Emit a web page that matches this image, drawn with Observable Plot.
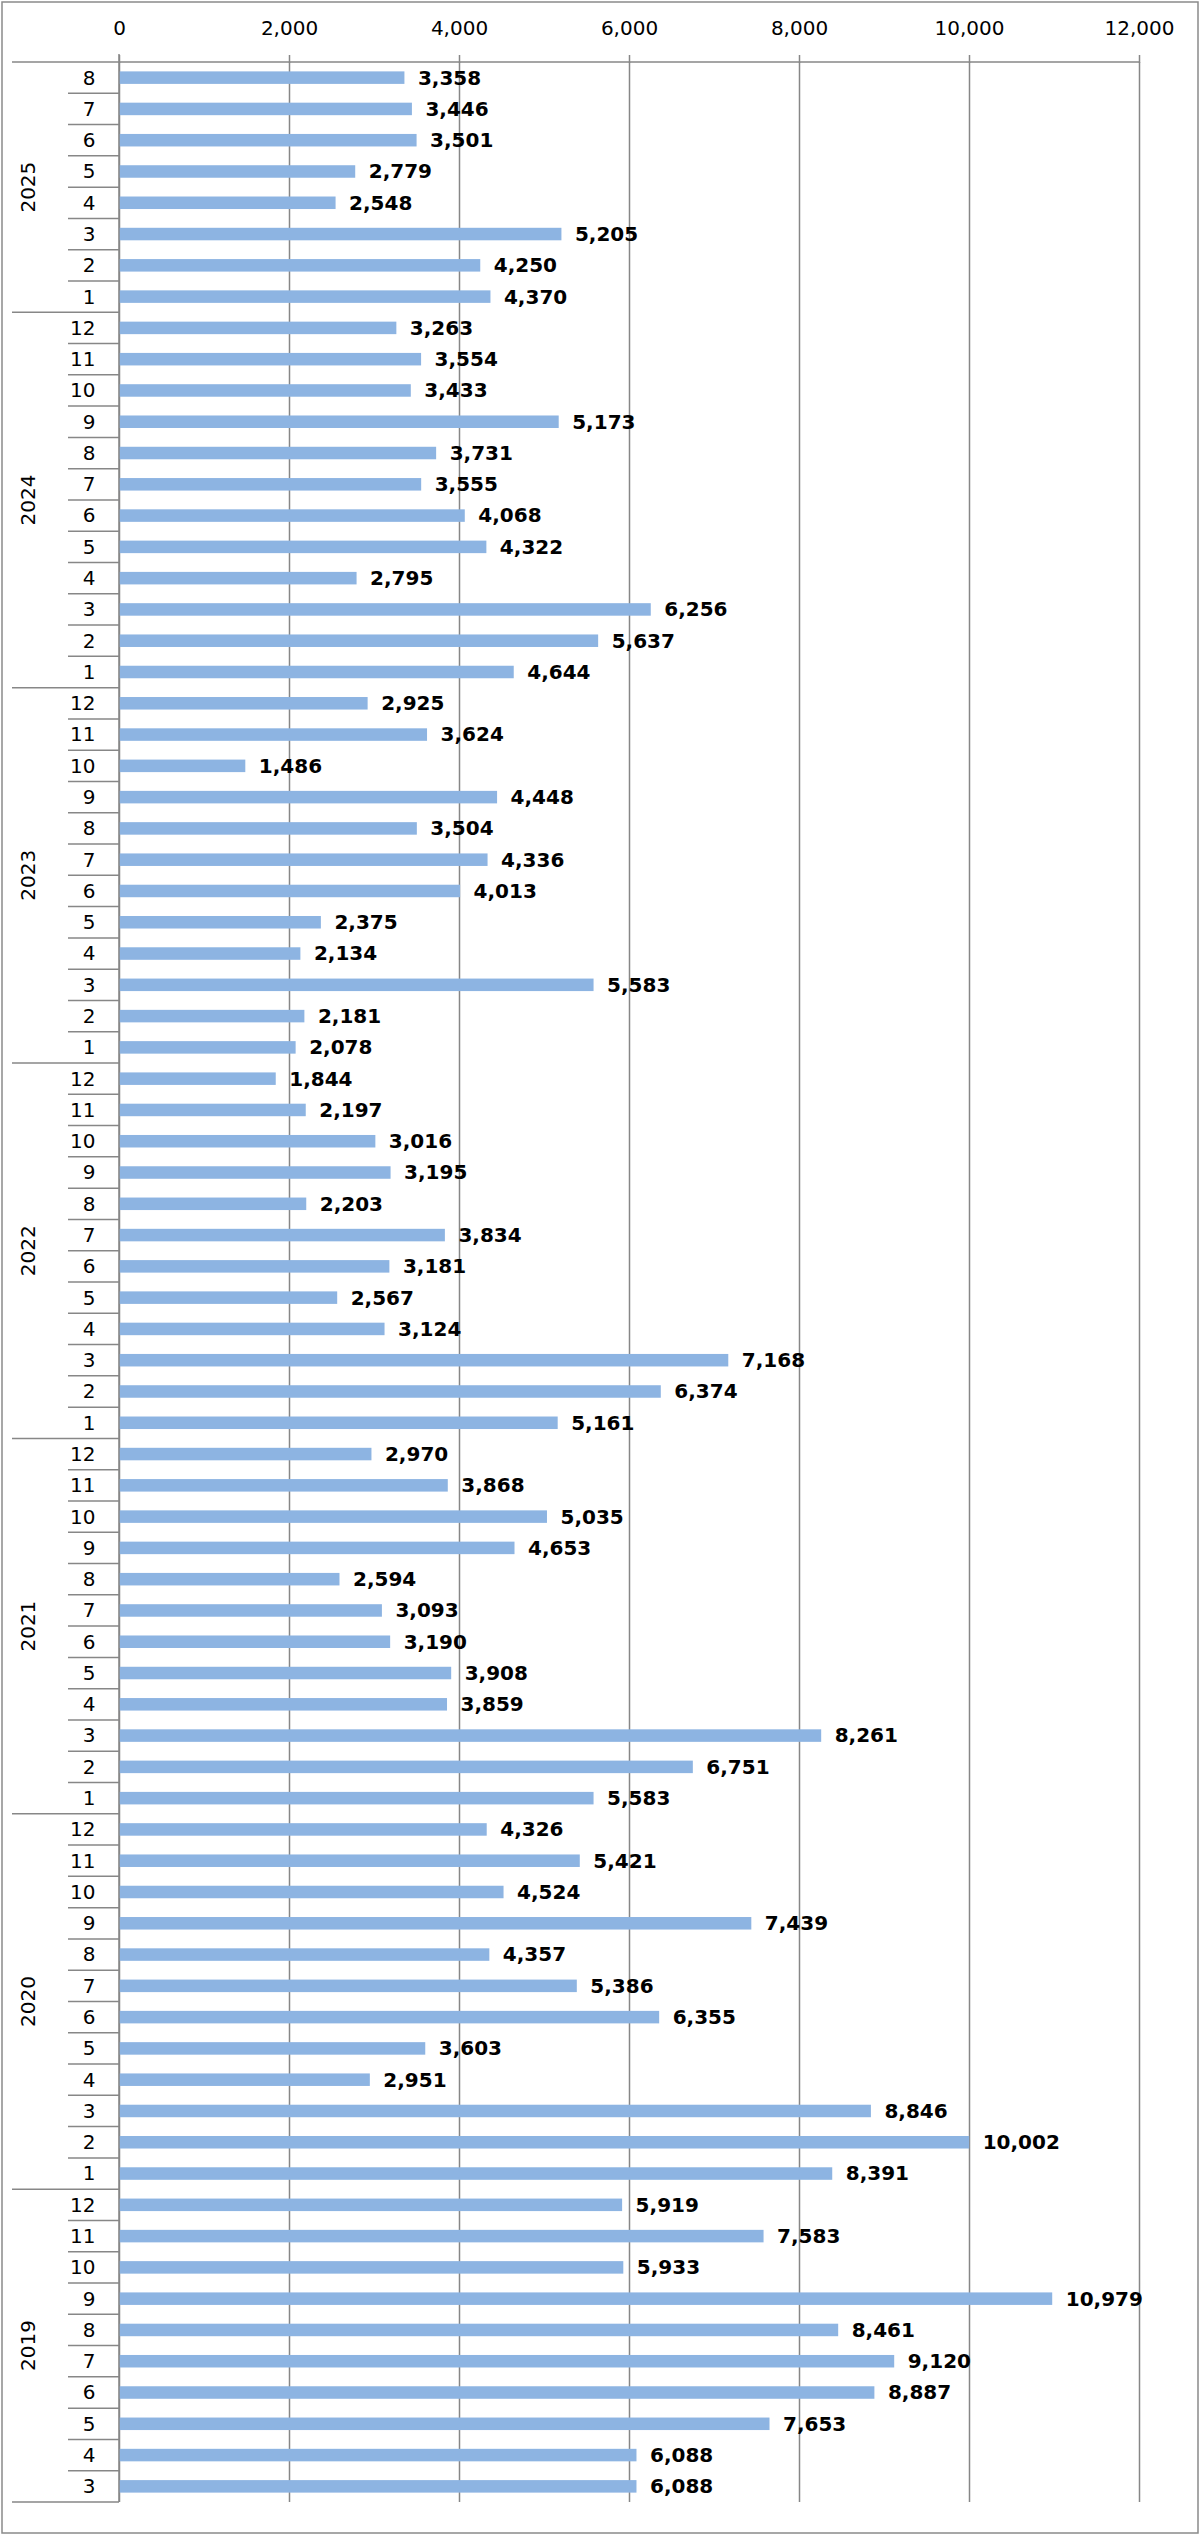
<!DOCTYPE html>
<html>
<head>
<meta charset="utf-8">
<script src="https://cdn.jsdelivr.net/npm/d3@7"></script>
<script src="https://cdn.jsdelivr.net/npm/@observablehq/plot@0.6"></script>
<style>
  html, body { margin: 0; padding: 0; background: #fff; }
  #chart svg { display: block; }
</style>
</head>
<body>
<div id="chart"></div>
<script>
// ---- Data ----
const years = [2025, 2024, 2023, 2022, 2021, 2020, 2019];
const months2025 = [8, 7, 6, 5, 4, 3, 2, 1];
const monthsFull = [12, 11, 10, 9, 8, 7, 6, 5, 4, 3, 2, 1];
const months2019 = [12, 11, 10, 9, 8, 7, 6, 5, 4, 3];

const values2025 = [3358, 3446, 3501, 2779, 2548, 5205, 4250, 4370];
const values2024 = [3263, 3554, 3433, 5173, 3731, 3555, 4068, 4322, 2795, 6256, 5637, 4644];
const values2023 = [2925, 3624, 1486, 4448, 3504, 4336, 4013, 2375, 2134, 5583, 2181, 2078];
const values2022 = [1844, 2197, 3016, 3195, 2203, 3834, 3181, 2567, 3124, 7168, 6374, 5161];
const values2021 = [2970, 3868, 5035, 4653, 2594, 3093, 3190, 3908, 3859, 8261, 6751, 5583];
const values2020 = [4326, 5421, 4524, 7439, 4357, 5386, 6355, 3603, 2951, 8846, 10002, 8391];
const values2019 = [5919, 7583, 5933, 10979, 8461, 9120, 8887, 7653, 6088, 6088];

const xTicks = [0, 2000, 4000, 6000, 8000, 10000, 12000];

// ---- Build table ----
const groups = [
  {year: 2025, months: months2025, values: values2025},
  {year: 2024, months: monthsFull, values: values2024},
  {year: 2023, months: monthsFull, values: values2023},
  {year: 2022, months: monthsFull, values: values2022},
  {year: 2021, months: monthsFull, values: values2021},
  {year: 2020, months: monthsFull, values: values2020},
  {year: 2019, months: months2019, values: values2019}
];
const rows = groups.flatMap(g => g.months.map((m, i) => ({
  year: g.year, month: m, key: `${g.year}-${m}`, value: g.values[i]
})));
const keys = rows.map(d => d.key);
const monthOf = k => k.split("-")[1];
const fmt = d3.format(",");

const W = 1200, H = 2535;
const mL = 119, mR = 61, mT = 62, mB = 33;
const FONT = "'DejaVu Sans', Verdana, sans-serif";
const GRID = "#878787";

const plot = Plot.plot({
  width: W,
  height: H,
  marginLeft: mL,
  marginRight: mR,
  marginTop: mT,
  marginBottom: mB,
  style: {fontFamily: FONT, fontSize: "20px", color: "#000", background: "#fff", overflow: "visible"},
  x: {domain: [0, 12000], axis: null},
  y: {domain: keys, paddingInner: 0.6, paddingOuter: 0.3, round: false, axis: null},
  marks: [
    Plot.gridX(xTicks, {stroke: GRID, strokeOpacity: 1, strokeWidth: 1.5}),
    Plot.axisX(xTicks, {
      anchor: "top", tickSize: 8, tickPadding: 20,
      tickFormat: d3.format(","), stroke: GRID, strokeWidth: 1.5,
      fill: "#000", fontSize: 20, label: null
    }),
    Plot.axisY({
      tickSize: 0, tickPadding: 24, tickFormat: k => monthOf(k),
      fill: "#000", fontSize: 20, label: null
    }),
    Plot.barX(rows, {x: "value", y: "key", fill: "#8DB4E2"}),
    Plot.text(rows, {
      x: "value", y: "key", text: d => fmt(d.value),
      textAnchor: "start", dx: 13, fontWeight: "bold", fontSize: 20, fill: "#000"
    })
  ]
});

document.getElementById("chart").appendChild(plot);

// ---- Category grouping decorations, positioned from Plot's y scale ----
const svg = d3.select(plot);
const ys = plot.scale("y");
const y0 = Math.min(ys.range[0], ys.range[1]);
const y1 = Math.max(ys.range[0], ys.range[1]);
const step = (y1 - y0) / keys.length;
const xRight = W - mR;

const deco = svg.append("g").attr("stroke", GRID).attr("stroke-width", 1.5).attr("fill", "none");
const txt = svg.append("g").attr("font-family", FONT).attr("font-size", 20).attr("fill", "#000");

let idx = 0;
groups.forEach((g, gi) => {
  const yTop = y0 + idx * step;
  deco.append("line").attr("x1", 12).attr("x2", gi === 0 ? xRight : mL).attr("y1", yTop).attr("y2", yTop);
  for (let i = 1; i < g.months.length; i++) {
    const yy = y0 + (idx + i) * step;
    deco.append("line").attr("x1", 68).attr("x2", mL).attr("y1", yy).attr("y2", yy);
  }
  const yMid = y0 + (idx + g.months.length / 2) * step;
  txt.append("text")
    .attr("transform", `translate(28,${yMid}) rotate(-90)`)
    .attr("text-anchor", "middle")
    .attr("dy", "0.35em")
    .text(String(g.year));
  idx += g.months.length;
});
deco.append("line").attr("x1", 12).attr("x2", mL).attr("y1", y1).attr("y2", y1);
// vertical category axis line
deco.append("line").attr("x1", mL).attr("x2", mL).attr("y1", y0 - 8).attr("y2", y1);
// outer chart border
svg.append("rect").attr("x", 2).attr("y", 2).attr("width", W - 4).attr("height", H - 4)
  .attr("fill", "none").attr("stroke", "#8a8a8a").attr("stroke-width", 1.5);
</script>
</body>
</html>
